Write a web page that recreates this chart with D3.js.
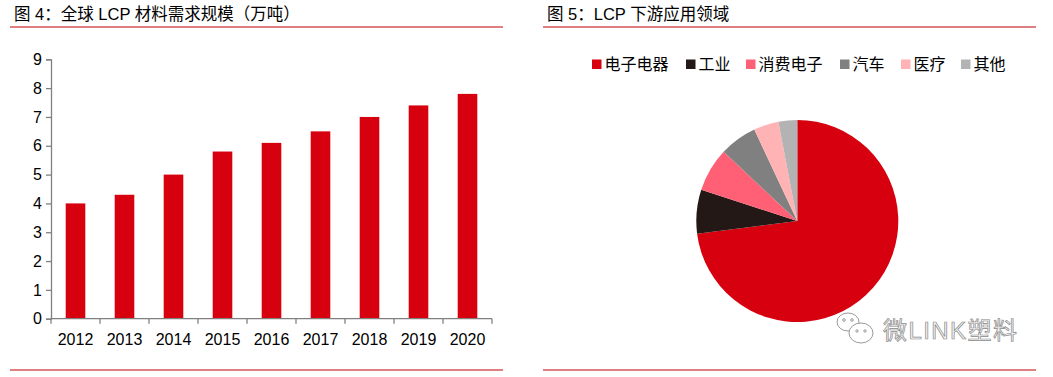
<!DOCTYPE html>
<html>
<head>
<meta charset="utf-8">
<script src="https://cdn.jsdelivr.net/npm/d3@7"></script>
<style>
  body { margin: 0; background: #fff; }
  text { font-family: "Liberation Sans", Arial, "Noto Sans CJK SC", sans-serif; }
  .cn { font-family: "Liberation Sans", "Noto Sans CJK SC", sans-serif; }
</style>
</head>
<body>
<svg id="chart"></svg>
<script>
/* DATA */
const years = ["2012", "2013", "2014", "2015", "2016", "2017", "2018", "2019", "2020"];
const demand = [4.0, 4.3, 5.0, 5.8, 6.1, 6.5, 7.0, 7.4, 7.8];
const yTicks = [0, 1, 2, 3, 4, 5, 6, 7, 8, 9];

const sectors = ["电子电器", "工业", "消费电子", "汽车", "医疗", "其他"];
const shares = [73, 7, 7, 6, 4, 3];
const sectorColors = ["#D7000F", "#231815", "#FF6076", "#808080", "#FFB3B5", "#B3B3B3"];

const titleLeft = "图 4：全球 LCP 材料需求规模（万吨）";
const titleRight = "图 5：LCP 下游应用领域";

const W = 1053, H = 377;
const svg = d3.select("#chart").attr("width", W).attr("height", H);

// panel titles and red rules
const panels = [
  { x0: 10, x1: 503, title: titleLeft, tx: 14 },
  { x0: 543, x1: 1036, title: titleRight, tx: 547 }
];
panels.forEach(p => {
  svg.append("text").attr("class", "cn")
    .attr("x", p.tx).attr("y", 20)
    .attr("font-size", 16.5).attr("fill", "#000")
    .text(p.title);
  svg.append("line").attr("x1", p.x0).attr("x2", p.x1).attr("y1", 27).attr("y2", 27)
    .attr("stroke", "#C00000").attr("stroke-width", 1.2);
  svg.append("line").attr("x1", p.x0).attr("x2", p.x1).attr("y1", 370).attr("y2", 370)
    .attr("stroke", "#C00000").attr("stroke-width", 1.2);
});

/* BAR CHART */
const x = d3.scaleBand().domain(years).range([51, 492]).paddingInner(0.6).paddingOuter(0.3);
const y = d3.scaleLinear().domain([0, 9]).range([318.7, 59.3]);

const bars = svg.append("g");
bars.selectAll("rect")
  .data(demand)
  .join("rect")
    .attr("x", (d, i) => x(years[i]))
    .attr("y", d => y(d))
    .attr("width", x.bandwidth())
    .attr("height", d => y(0) - y(d))
    .attr("fill", "#D7000F");

// y axis
const yAxis = svg.append("g")
  .attr("transform", "translate(51,0)")
  .call(d3.axisLeft(y).tickValues(yTicks).tickSize(5).tickPadding(4).tickFormat(d3.format("d")));
yAxis.select(".domain").attr("stroke", "#808080").attr("stroke-width", 1.3);
yAxis.selectAll(".tick line").attr("stroke", "#808080").attr("stroke-width", 1.3);
yAxis.selectAll(".tick text").attr("font-size", 16).attr("fill", "#000")
  .attr("font-family", "Liberation Sans, Arial, sans-serif");

// x axis: ticks at band boundaries
const xBoundary = d3.scaleLinear().domain([0, years.length]).range([51, 492]);
const xAxis = svg.append("g").attr("transform", `translate(0,${y(0)})`);
xAxis.append("line").attr("x1", 51).attr("x2", 492)
  .attr("stroke", "#808080").attr("stroke-width", 1.3);
xAxis.selectAll(".xt")
  .data(d3.range(years.length + 1))
  .join("line")
    .attr("class", "xt")
    .attr("x1", d => xBoundary(d)).attr("x2", d => xBoundary(d))
    .attr("y1", 0).attr("y2", 5)
    .attr("stroke", "#808080").attr("stroke-width", 1.3);
xAxis.selectAll(".xl")
  .data(years)
  .join("text")
    .attr("class", "xl")
    .attr("x", d => x(d) + x.bandwidth() / 2)
    .attr("y", 26)
    .attr("text-anchor", "middle")
    .attr("font-size", 16)
    .attr("fill", "#000")
    .text(d => d);

/* PIE CHART */
const cx = 797.3, cy = 221, r = 101;
const pie = d3.pie().sort(null).value(d => d);
const arc = d3.arc().innerRadius(0).outerRadius(r);

svg.append("g")
  .attr("transform", `translate(${cx},${cy})`)
  .selectAll("path")
  .data(pie(shares))
  .join("path")
    .attr("d", arc)
    .attr("fill", (d, i) => sectorColors[i]);

// legend
const legendX = [592, 686, 746, 840, 901, 961];
const legend = svg.append("g");
const items = legend.selectAll("g")
  .data(sectors)
  .join("g")
    .attr("transform", (d, i) => `translate(${legendX[i]},64)`);
items.append("rect")
  .attr("x", 0).attr("y", -4.5).attr("width", 9.5).attr("height", 9.5)
  .attr("fill", (d, i) => sectorColors[i]);
items.append("text").attr("class", "cn")
  .attr("x", 12.5).attr("y", 6)
  .attr("font-size", 16).attr("fill", "#000")
  .text(d => d);

// watermark
const wm = svg.append("g").attr("fill", "none").attr("stroke", "#9a9a9a").attr("stroke-width", 1);
wm.append("ellipse").attr("cx", 848).attr("cy", 322).attr("rx", 11).attr("ry", 9);
wm.append("ellipse").attr("cx", 861).attr("cy", 333).attr("rx", 12).attr("ry", 10).attr("fill", "#fff");
wm.append("circle").attr("cx", 844).attr("cy", 320).attr("r", 1.3);
wm.append("circle").attr("cx", 852).attr("cy", 320).attr("r", 1.3);
wm.append("circle").attr("cx", 857).attr("cy", 331).attr("r", 1.2);
wm.append("circle").attr("cx", 865).attr("cy", 331).attr("r", 1.2);
svg.append("text").attr("class", "cn")
  .attr("x", 883).attr("y", 339)
  .attr("font-size", 24)
  .attr("fill", "#f4f4f4").attr("stroke", "#8a8a8a").attr("stroke-width", 0.7)
  .attr("textLength", 134)
  .text("微LINK塑料");
</script>
</body>
</html>
